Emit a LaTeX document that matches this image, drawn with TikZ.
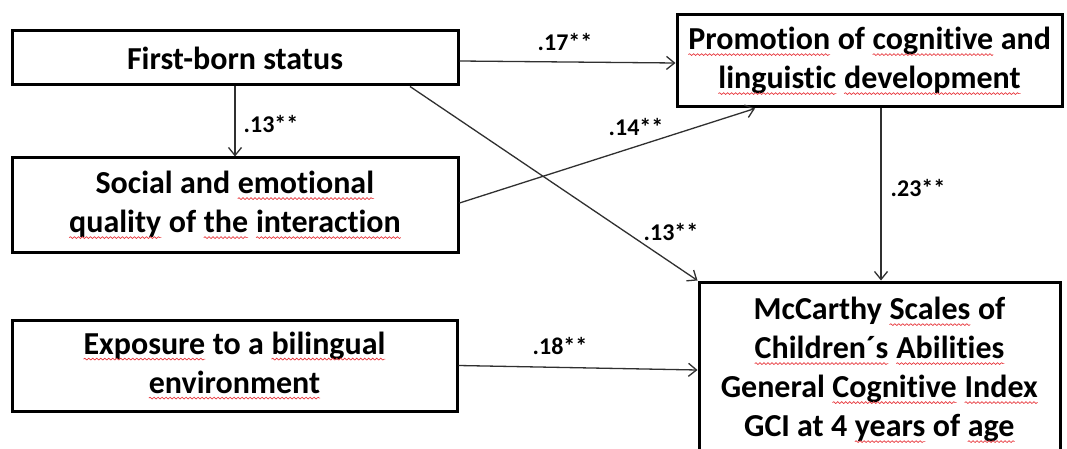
\documentclass[tikz,border=0pt]{standalone}
\usepackage{fontspec}
\setmainfont[Ligatures=NoCommon]{Carlito}
\usetikzlibrary{arrows.meta,decorations.pathmorphing}
\definecolor{spell}{HTML}{E8383D}
\definecolor{wire}{HTML}{303030}
% red wavy underline for flagged words
\newcommand\sq[1]{\tikz[baseline=(w.base)]{%
  \node[draw=none,fill=none,inner sep=0pt,outer sep=0pt,minimum width=0pt,
        minimum height=0pt,anchor=base] (w) at (0,0) {#1};
  \draw[spell,fill=none,line width=0.7pt,decorate,
        decoration={snake,amplitude=0.9pt,segment length=4pt}]
    ([yshift=-5pt]w.base west) -- ([yshift=-5pt]w.base east);}}

\begin{document}
\begin{tikzpicture}[x=1pt,y=-1pt,
  box/.style={draw=black,line width=3pt,fill=white,inner sep=0pt,align=center,
    font=\fontsize{32}{39}\selectfont\bfseries},
  link/.style={draw=wire,line width=1.3pt,
    -{Straight Barb[length=8pt,width=13pt,line width=1.3pt]}},
  coef/.style={font=\fontsize{24}{28}\selectfont\bfseries,inner sep=0pt}]

\fill[white] (0,0) rectangle (1067,449);
\clip (0,0) rectangle (1067,449);

% boxes
\node[box,minimum width=446pt,minimum height=54pt] (fb) at (235,58) {First-born status};
\node[box,minimum width=446pt,minimum height=94pt] (so) at (235,205)
  {Social and \sq{emotional}\\ \sq{quality} of \sq{the} \sq{interaction}};
\node[box,minimum width=445pt,minimum height=91pt] (ex) at (234.5,365.5)
  {\sq{Exposure} to a \sq{bilingual}\\ \sq{environment}};
\node[box,minimum width=385pt,minimum height=92pt] (pr) at (869.5,61)
  {\sq{Promotion} of \sq{cognitive} and\\ \sq{linguistic} \sq{development}};
\node[box,minimum width=361pt,minimum height=176pt] (mc) at (879.5,370)
  {McCarthy \sq{Scales} of\\ \sq{Children´s} \sq{Abilities}\\ General \sq{Cognitive} \sq{Index}\\ GCI at 4 \sq{years} of \sq{age}};

% paths
\draw[link] ([yshift=-3pt]fb.east) -- ([yshift=-2pt]pr.west);
\draw[link] (fb.south) -- (so.north);
\draw[link] ([xshift=175pt]fb.south) -- (mc.north west);
\draw[link] ([yshift=2pt]so.east) -- ([xshift=-114.5pt]pr.south);
\draw[link] ([xshift=11.5pt]pr.south) -- ([xshift=11.5pt]pr.south |- mc.north);
\draw[link] (ex.east) -- (mc.west);

% path coefficients
\node[coef] (c1) at (565,42) {.17**};
\node[coef] (c2) at (271,124) {.13**};
\node[coef] (c3) at (636,127) {.14**};
\node[coef] (c4) at (671,232) {.13**};
\node[coef] (c5) at (918,188) {.23**};
\node[coef] (c6) at (560,346) {.18**};
\end{tikzpicture}
\end{document}
